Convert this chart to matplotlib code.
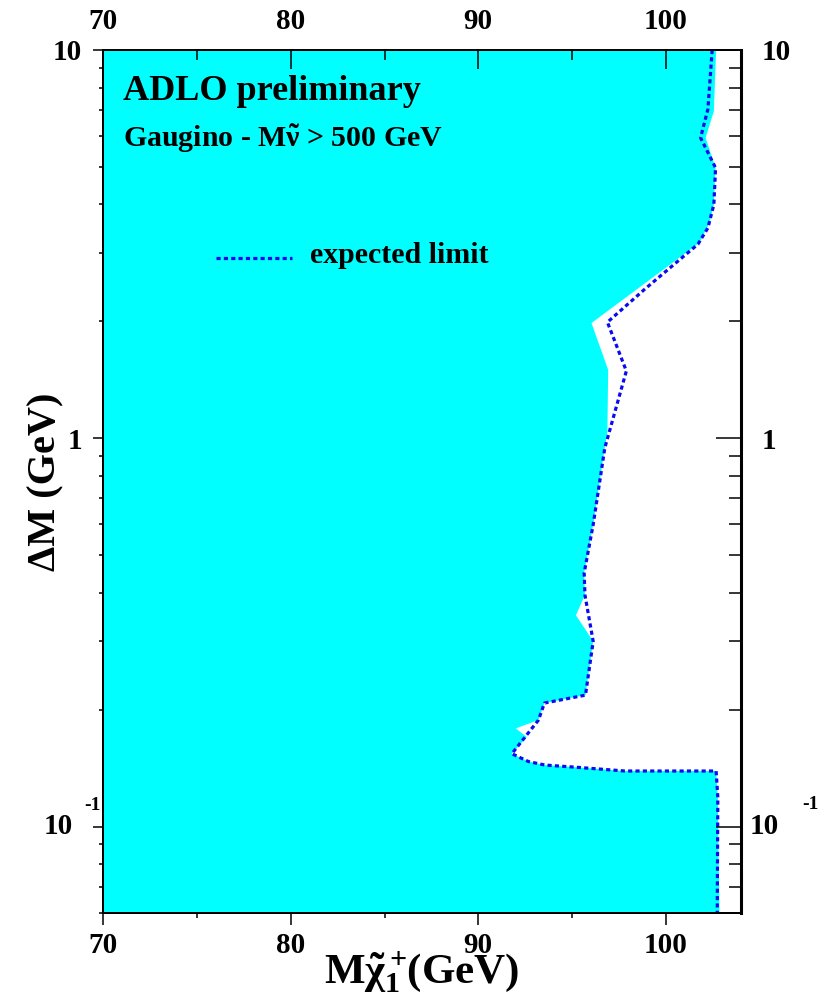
import matplotlib
matplotlib.use("Agg")
import matplotlib.pyplot as plt
from matplotlib.ticker import FixedLocator, FixedFormatter, NullFormatter
from matplotlib.lines import Line2D

plt.rcParams['font.family'] = ['Liberation Serif', 'DejaVu Serif']
plt.rcParams['font.weight'] = 'bold'
plt.rcParams['mathtext.fontset'] = 'custom'
plt.rcParams['mathtext.rm'] = 'Liberation Serif:bold'
plt.rcParams['mathtext.it'] = 'Liberation Serif:bold'
plt.rcParams['mathtext.bf'] = 'Liberation Serif:bold'

# ---- data ----
# expected limit (dotted line): chargino mass [GeV] vs Delta M [GeV]
exp_x = [102.48, 102.25, 101.86, 102.66, 102.57, 102.25, 101.72, 98.88, 96.89,
         97.90, 96.75, 96.13, 95.65, 95.69, 96.13, 95.72, 93.53, 93.21, 91.79,
         92.68, 93.56, 95.34, 97.82, 102.69, 102.78, 102.75]
exp_y = [10.0, 7.03, 5.94, 4.97, 4.00, 3.48, 3.16, 2.42, 1.99,
         1.49, 0.944, 0.599, 0.450, 0.395, 0.300, 0.218, 0.208, 0.188, 0.154,
         0.147, 0.144, 0.142, 0.139, 0.139, 0.119, 0.06]

# observed excluded region boundary (cyan)
obs_x = [102.69, 102.57, 102.13, 102.66, 102.57, 102.34, 101.81, 96.04, 96.93,
         96.89, 96.75, 96.13, 95.65, 95.69, 95.21, 96.13, 95.72, 93.53, 93.21,
         92.00, 92.59, 91.79, 92.68, 93.56, 95.34, 97.82, 102.69, 102.78, 102.87]
obs_y = [10.0, 6.96, 5.94, 4.97, 4.00, 3.59, 3.19, 1.98, 1.50,
         1.04, 0.944, 0.599, 0.450, 0.395, 0.350, 0.300, 0.218, 0.208, 0.188,
         0.179, 0.170, 0.154, 0.147, 0.144, 0.142, 0.139, 0.139, 0.119, 0.06]

x_range = [70, 104]
y_range = [0.06, 10]
x_major = [70, 80, 90, 100]
x_minor = [75, 85, 95]
x_labels = ['70', '80', '90', '100']
y_major = [0.1, 1, 10]
y_labels = ['', '1', '10']

# ---- figure ----
fig = plt.figure(figsize=(8.31, 9.99), dpi=100)
ax = fig.add_axes([0.1245, 0.0864, 0.7668, 0.8636])
ax.set_xlim(*x_range)
ax.set_yscale('log')
ax.set_ylim(*y_range)

ax.fill(obs_x + [x_range[0], x_range[0]], obs_y + [y_range[0], y_range[1]],
        color='#00ffff', lw=0, zorder=1)
ax.plot(exp_x, exp_y, color='#0a0af0', lw=2.3, dashes=(1.3, 1.0), zorder=3)

minor_y = [v * d for d in (0.01, 0.1, 1) for v in range(2, 10)]

def style(a):
    for s in a.spines.values():
        s.set_linewidth(1.3)
        s.set_zorder(5)

TS = 21

# bottom / left
ax.xaxis.set_major_locator(FixedLocator(x_major))
ax.xaxis.set_minor_locator(FixedLocator(x_minor))
ax.xaxis.set_major_formatter(FixedFormatter(x_labels))
ax.yaxis.set_major_locator(FixedLocator(y_major))
ax.yaxis.set_minor_locator(FixedLocator(minor_y))
ax.yaxis.set_major_formatter(FixedFormatter(y_labels))
ax.yaxis.set_minor_formatter(NullFormatter())
ax.tick_params(axis='x', which='major', direction='out', length=8.6, width=1.1,
               pad=5.0, labelsize=TS)
ax.tick_params(axis='x', which='minor', direction='out', length=3.6, width=1.1)
ax.tick_params(axis='y', which='major', direction='out', length=7.2, width=1.1,
               pad=8.0, labelsize=TS)
ax.tick_params(axis='y', which='minor', direction='out', length=2.9, width=1.1)
style(ax)

# top
axt = ax.twiny()
axt.set_xlim(*x_range)
axt.xaxis.set_major_locator(FixedLocator(x_major))
axt.xaxis.set_minor_locator(FixedLocator(x_minor))
axt.xaxis.set_major_formatter(FixedFormatter(x_labels))
axt.tick_params(axis='x', which='major', direction='in', length=13.7, width=1.1,
                pad=10.5, labelsize=TS)
axt.tick_params(axis='x', which='minor', direction='in', length=7.2, width=1.1)
style(axt)

# right
axr = ax.twinx()
axr.set_yscale('log')
axr.set_ylim(*y_range)
axr.yaxis.set_major_locator(FixedLocator(y_major))
axr.yaxis.set_minor_locator(FixedLocator(minor_y))
axr.yaxis.set_major_formatter(FixedFormatter(y_labels))
axr.yaxis.set_minor_formatter(NullFormatter())
axr.tick_params(axis='y', which='major', direction='in', length=18, width=1.1,
                pad=15, labelsize=TS)
axr.tick_params(axis='y', which='minor', direction='in', length=8.6, width=1.1)
style(axr)
axr.spines['right'].set_linewidth(2.2)

# 10^-1 labels
for xa, dx, ddx, dy in [(0, -22, -14, 15), (1, 6.5, 44, 16)]:
    ha = 'right' if xa == 0 else 'left'
    ax.annotate('10', xy=(xa, 0.1), xycoords=('axes fraction', 'data'),
                xytext=(dx, 0), textcoords='offset points', ha=ha, va='center',
                fontsize=TS, annotation_clip=False)
    ax.annotate('-1', xy=(xa, 0.1), xycoords=('axes fraction', 'data'),
                xytext=(ddx, dy), textcoords='offset points', ha='left', va='center',
                fontsize=14, annotation_clip=False)

# labels
fig.text(0.5077, 0.016, r'$\mathrm{M}\tilde{\chi}_1^+\!\mathrm{(GeV)}$', ha='center',
         va='baseline', fontsize=31)
fig.text(0.055, 0.518, 'ΔM (GeV)', rotation=90, ha='center', va='center',
         fontsize=29)

# annotations
fig.text(123 / 831, 1 - 100 / 999, 'ADLO preliminary', fontsize=26,
         ha='left', va='baseline')
fig.text(123 / 831, 1 - 146.7 / 999, r'Gaugino - M$\tilde{\nu}$ > 500 GeV',
         fontsize=21.5, ha='left', va='baseline')
fig.text(310 / 831, 1 - 263 / 999, 'expected limit', fontsize=21.5,
         ha='left', va='baseline')
fig.add_artist(Line2D([216 / 831, 292 / 831], [1 - 258 / 999, 1 - 258 / 999],
                      transform=fig.transFigure, color='#0a0af0', lw=2.3,
                      dashes=(1.3, 1.0)))

fig.savefig('out.png', dpi=100)
